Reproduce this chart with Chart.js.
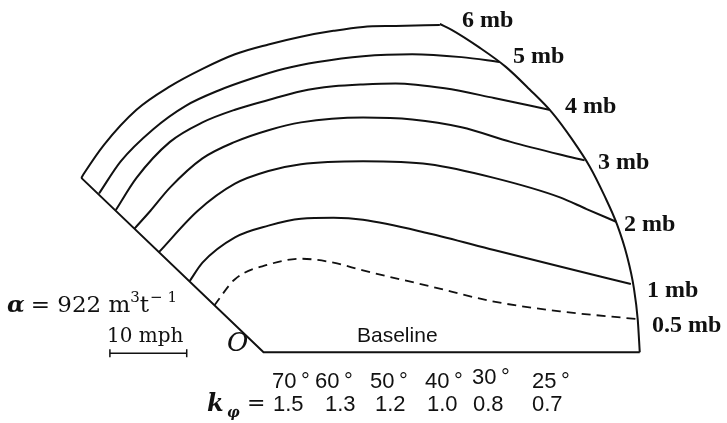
<!DOCTYPE html>
<html>
<head>
<meta charset="utf-8">
<script src="https://cdn.jsdelivr.net/npm/chart.js@4.4.1/dist/chart.umd.min.js"></script>
<style>
  html, body { margin: 0; padding: 0; background: #fff; }
  #wrap { width: 727px; height: 423px; position: relative; }
</style>
</head>
<body>
<div id="wrap"><canvas id="diagram"></canvas></div>
<script>
// units: distance from the origin O, y up (roughly one unit per pixel of the figure)
let isobarLabels = ['6 mb', '5 mb', '4 mb', '3 mb', '2 mb', '1 mb', '0.5 mb'];
let latitudes = ['70\u2009°', '60\u2009°', '50\u2009°', '40\u2009°', '30\u2009°', '25\u2009°'];
let kPhi = ['1.5', '1.3', '1.2', '1.0', '0.8', '0.7'];

let frame = [[-185, 179], [0, 0], [382, 0]];
let outerArc = [[179, 337], [191, 331], [219, 313], [246, 293], [270, 270], [293, 246], [313, 219],
  [331, 191], [346, 161], [359, 131], [369, 99], [376, 66], [380, 33], [382, 0]];

let mb6 = [[-185, 179], [-182, 184], [-162, 213], [-129, 249], [-95, 273], [-62, 291], [-29, 306],
  [5, 316], [38, 324], [71, 330], [101, 334], [134, 335], [179, 336]];
let mb5 = [[-167, 163], [-145, 196], [-112, 229], [-79, 253], [-45, 269], [-12, 281], [21, 291],
  [55, 298], [101, 304], [151, 306], [201, 303], [240, 298]];
let mb4 = [[-150, 146], [-129, 179], [-95, 216], [-62, 236], [-29, 249], [5, 259], [38, 268],
  [71, 273], [101, 275], [134, 276], [184, 271], [234, 261], [290, 249]];
let mb3 = [[-131, 127], [-115, 145], [-95, 169], [-62, 199], [-29, 216], [5, 228], [38, 236],
  [101, 241], [151, 239], [201, 231], [251, 216], [301, 203], [326, 197]];
let mb2 = [[-106, 103], [-67, 145], [-29, 173], [5, 186], [38, 193], [101, 196], [168, 193],
  [234, 179], [301, 159], [328, 147], [358, 134]];
let mb1 = [[-75, 73], [-62, 92], [-29, 118], [5, 130], [38, 137], [71, 138], [101, 136],
  [168, 122], [234, 105], [301, 88], [373, 70]];
let mb05 = [[-50, 48], [-29, 75], [5, 90], [38, 96], [71, 92], [101, 84], [168, 68],
  [234, 52], [301, 42], [380, 34]];
let scaleBar = [[-156, -1], [-78, -1]];

const ink = '#111';

function pts(arr) {
  return arr.map(p => ({ x: p[0], y: p[1] }));
}

function curve(arr, extra) {
  return Object.assign({
    data: pts(arr),
    showLine: true,
    borderColor: ink,
    borderWidth: 2,
    pointRadius: 0,
    cubicInterpolationMode: 'monotone',
    fill: false,
    clip: false
  }, extra || {});
}

// all the lettering of the figure
const lettering = {
  id: 'lettering',
  afterDatasetsDraw(chart) {
    const c = chart.ctx;
    c.save();
    c.fillStyle = ink;
    c.textBaseline = 'alphabetic';
    c.textAlign = 'left';

    // isobar names along the arc
    let mbPos = [[462, 27], [513, 63], [565, 113], [598, 169], [624, 231], [647, 297], [652, 332]];
    c.font = 'bold 24px "Liberation Serif"';
    isobarLabels.forEach((t, i) => c.fillText(t, mbPos[i][0], mbPos[i][1]));

    c.font = '21px "Liberation Sans"';
    c.fillText('Baseline', 357, 342);

    // latitude row and k row
    let latX = [272, 315, 370, 425, 472, 532];
    let latY = [388, 388, 388, 388, 384, 388];
    let kX = [273, 325, 375, 427, 473, 532];
    c.font = '22px "Liberation Sans"';
    latitudes.forEach((t, i) => c.fillText(t, latX[i], latY[i]));
    kPhi.forEach((t, i) => c.fillText(t, kX[i], 411));

    c.font = 'italic bold 24px "DejaVu Serif"';
    c.fillText('k', 207, 411);
    c.font = 'italic bold 14px "DejaVu Serif"';
    c.fillText('φ', 227, 417);
    c.font = '22px "DejaVu Serif"';
    c.fillText('=', 247, 410);

    // alpha label
    let x = 7;
    c.font = 'italic bold 23px "DejaVu Serif"';
    c.fillText('α', x, 312);
    x += c.measureText('α').width + 6;
    c.font = '23px "DejaVu Serif"';
    c.fillText('= 922 m', x, 312);
    x += c.measureText('= 922 m').width;
    c.font = '15px "DejaVu Serif"';
    c.fillText('3', x, 302);
    x += c.measureText('3').width;
    c.font = '23px "DejaVu Serif"';
    c.fillText('t', x, 312);
    x += c.measureText('t').width + 1;
    c.font = '15px "DejaVu Serif"';
    c.fillText('\u2212 1', x, 302);

    c.font = '20px "DejaVu Serif"';
    c.fillText('10 mph', 107, 342);

    c.font = 'italic 26px "DejaVu Serif"';
    c.fillText('O', 227, 351);
    c.restore();
  }
};

new Chart(document.getElementById('diagram'), {
  type: 'scatter',
  data: {
    datasets: [
      curve(frame, { cubicInterpolationMode: 'default', tension: 0 }),
      curve(outerArc),
      curve(mb6),
      curve(mb5),
      curve(mb4),
      curve(mb3),
      curve(mb2),
      curve(mb1),
      curve(mb05, { borderDash: [9, 6], borderWidth: 1.8 }),
      curve(scaleBar, { cubicInterpolationMode: 'default', tension: 0, borderWidth: 1.5, pointStyle: 'line', rotation: 90, pointRadius: 4, pointBorderWidth: 1.5, pointBorderColor: ink })
    ]
  },
  options: {
    responsive: true,
    maintainAspectRatio: false,
    animation: false,
    layout: { padding: 0 },
    plugins: { legend: { display: false }, tooltip: { enabled: false } },
    scales: {
      x: { type: 'linear', min: -262, max: 465, display: false },
      y: { type: 'linear', min: -67, max: 356, display: false }
    }
  },
  plugins: [lettering]
});
</script>
</body>
</html>
